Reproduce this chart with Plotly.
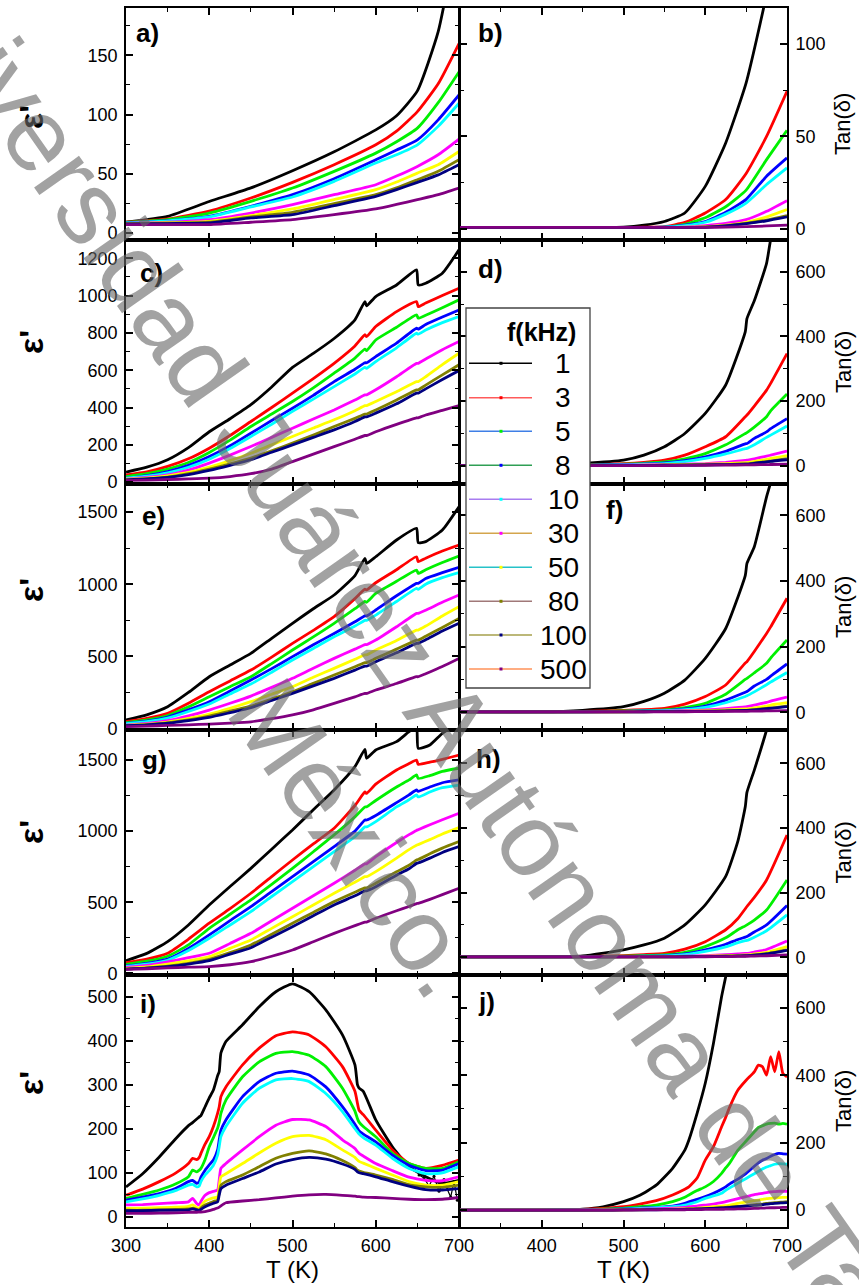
import plotly.graph_objects as go

# ---------------------------------------------------------------- series info
FREQS = ["1", "3", "5", "8", "10", "30", "50", "80", "100", "500"]   # kHz
COLORS = ["#000000", "#ff0000", "#00f000", "#0000ff", "#00ffff",
          "#ff00ff", "#ffff00", "#808000", "#000080", "#800080"]

# legend sample lines / dots (per entry)
LEG_LINE = ["#000000", "#ff5a5a", "#3f7fe6", "#2f9f55", "#a87cf0",
            "#d4a54c", "#26c2c8", "#a07878", "#a6a04c", "#ff9258"]
LEG_DOT = COLORS

# ---------------------------------------------------------------- a) eps'
T_a = [300, 350, 400, 450, 500, 550, 600, 625, 650, 675, 700]
eps_a = [
    [9, 14, 26.5, 38, 52.5, 68.5, 87, 99, 120, 170, 260],
    [9, 11.8, 18.5, 29.5, 42.7, 57.6, 74.4, 86, 102.5, 126, 160],
    [8.8, 11.2, 16.8, 26.7, 37.9, 52, 67.4, 77, 88.5, 110, 136],
    [8.5, 10.4, 14, 22.5, 32.3, 45.8, 61.8, 70, 78.6, 95.5, 116.5],
    [8.4, 10.2, 13.5, 21.9, 30.3, 43.5, 59, 66, 74.4, 90, 109.5],
    [8, 9, 11.2, 16.8, 23.9, 32.3, 40.7, 48, 56.2, 66, 79.2],
    [7.8, 8.6, 9.8, 14.6, 20.2, 28.1, 36.5, 43, 50.5, 57.6, 68.8],
    [7.6, 8.2, 9, 13.5, 17.4, 24.7, 32.3, 38, 44.9, 52, 61.8],
    [7.5, 7.9, 8.4, 12.6, 15.4, 23, 30.9, 36.5, 42.7, 49, 57.6],
    [7, 7, 7, 9, 11.2, 15.4, 20.2, 24, 28.1, 32.3, 37.9],
]

# ---------------------------------------------------------------- b) tan
T_b = [300, 400, 500, 525, 550, 575, 600, 625, 650, 675, 700]
tan_b = [
    [0.8, 0.8, 1, 2, 4, 8.6, 23, 46.5, 79, 127, 190],
    [0.8, 0.8, 0.8, 0.9, 1.2, 3.5, 8.6, 15.9, 30, 50, 74.4],
    [0.8, 0.8, 0.8, 0.8, 1, 2.5, 6, 12, 21, 37.5, 53.3],
    [0.8, 0.8, 0.8, 0.8, 0.9, 2, 4, 9, 16, 28.5, 38.4],
    [0.8, 0.8, 0.8, 0.8, 0.9, 1.8, 3.6, 8, 14, 24, 33],
    [0.8, 0.8, 0.8, 0.8, 0.8, 1, 1.8, 3, 5, 9.5, 15.3],
    [0.8, 0.8, 0.8, 0.8, 0.8, 0.9, 1.2, 2, 3.6, 6.5, 10.5],
    [0.8, 0.8, 0.8, 0.8, 0.8, 0.8, 1, 1.8, 3, 4.8, 7.2],
    [0.8, 0.8, 0.8, 0.8, 0.8, 0.8, 0.9, 1.6, 2.8, 4.4, 6.5],
    [0.8, 0.8, 0.8, 0.8, 0.8, 0.8, 0.8, 1, 1.2, 1.6, 2],
]

# ---------------------------------------------------------------- c) eps'
T_c = [300, 325, 350, 375, 400, 425, 450, 475, 500, 525, 550, 575, 587, 589,
       600, 625, 649, 651, 660, 680, 700]
eps_c = [
    [54, 80, 120, 185, 270, 340, 415, 510, 615, 690, 770, 870, 968, 945, 995, 1057, 1138, 1057, 1066, 1120, 1245],
    [39, 55, 84, 125, 182, 250, 325, 400, 477, 555, 637, 730, 790, 780, 834, 914, 968, 941, 960, 1000, 1039],
    [30, 45, 70, 105, 159, 225, 298, 365, 432, 505, 584, 665, 713, 705, 762, 830, 897, 879, 895, 935, 977],
    [21, 35, 57, 90, 137, 195, 262, 330, 396, 465, 539, 605, 640, 640, 673, 745, 825, 820, 845, 885, 923],
    [21, 32, 50, 80, 123, 180, 245, 310, 379, 445, 512, 580, 615, 610, 646, 720, 798, 793, 815, 855, 888],
    [16, 25, 39, 65, 102, 145, 191, 240, 289, 338, 387, 440, 468, 468, 495, 565, 637, 637, 660, 710, 754],
    [16, 22, 34, 52, 80, 115, 155, 200, 245, 290, 334, 383, 410, 410, 432, 485, 539, 539, 565, 630, 691],
    [12.5, 18, 27, 45, 70, 98, 129, 168, 209, 252, 298, 342, 365, 365, 387, 440, 495, 495, 520, 575, 629],
    [12.5, 17, 25, 40, 62.5, 90, 120, 160, 200, 240, 280, 325, 350, 350, 370, 420, 477, 477, 500, 550, 598],
    [9, 11, 14, 17, 21, 30, 45, 70, 110, 150, 190, 230, 250, 250, 270, 310, 345, 345, 360, 385, 410],
]

# ---------------------------------------------------------------- d) tan
T_d = [300, 400, 450, 500, 525, 550, 575, 600, 625, 649, 651, 660, 675, 680, 700]
tan_d = [
    [1, 1, 7, 17.5, 33, 59, 100, 162, 250, 415, 455, 510, 626, 700, 950],
    [1, 1, 3, 7, 11, 17.5, 33, 59, 90, 152, 157, 185, 234, 255, 347],
    [1, 1, 2, 5, 8, 12, 22, 38, 65, 100, 103, 120, 152, 170, 222],
    [1, 1, 1.5, 4, 6, 9, 16, 28, 45, 68, 69, 85, 105, 115, 146],
    [1, 1, 1.5, 3, 5, 7, 13, 23, 37, 53, 54, 65, 88, 95, 123],
    [1, 1, 1, 2, 3, 4, 5, 7, 11, 17, 17.5, 22, 30, 33, 46],
    [1, 1, 1, 1.5, 2, 3, 4, 5, 7, 10, 10, 14, 20, 23, 32],
    [1, 1, 1, 1, 1.5, 2, 3, 3.5, 4, 6, 6, 9, 13, 15, 22],
    [1, 1, 1, 1, 1.5, 2, 2.5, 3, 4, 5.5, 5.5, 8, 12, 14, 19],
    [1, 1, 1, 1, 1, 1, 1.5, 2, 2.5, 3, 3, 3.5, 4, 4.2, 5],
]

# ---------------------------------------------------------------- e) eps'
T_e = [300, 325, 350, 375, 400, 425, 450, 475, 500, 525, 550, 575, 587, 589,
       600, 625, 649, 651, 660, 680, 700]
eps_e = [
    [59, 95, 151, 250, 359, 440, 521, 625, 729, 830, 925, 1060, 1179, 1144, 1190, 1306, 1387, 1288, 1295, 1375, 1537],
    [47, 70, 105, 175, 255, 330, 405, 495, 590, 680, 775, 900, 965, 960, 1010, 1100, 1190, 1156, 1180, 1230, 1271],
    [40, 60, 90, 150, 220, 290, 359, 450, 544, 635, 729, 830, 880, 875, 936, 1020, 1098, 1075, 1100, 1150, 1195],
    [36, 52, 80, 130, 186, 260, 336, 415, 498, 580, 659, 740, 780, 780, 821, 920, 1006, 1006, 1040, 1080, 1117],
    [34, 48, 72, 118, 170, 240, 308, 390, 475, 555, 636, 710, 750, 750, 786, 880, 971, 965, 1000, 1045, 1080],
    [24, 35, 55, 88, 128, 175, 225, 285, 348, 418, 486, 550, 582, 582, 613, 705, 798, 798, 820, 875, 925],
    [22, 30, 45, 70, 100, 140, 186, 238, 290, 355, 417, 480, 510, 510, 544, 610, 682, 682, 710, 780, 844],
    [20, 27, 40, 60, 87, 120, 156, 205, 255, 313, 371, 428, 457, 457, 486, 550, 613, 613, 640, 700, 763],
    [20, 26, 37, 55, 77, 110, 144, 194, 244, 296, 348, 405, 432, 432, 463, 525, 590, 590, 615, 675, 729],
    [13, 17, 22, 26, 31, 38, 47, 68, 94, 130, 174, 220, 243, 243, 267, 312, 359, 359, 380, 430, 486],
]

# ---------------------------------------------------------------- f) tan
T_f = [300, 400, 450, 500, 525, 550, 575, 600, 625, 649, 651, 660, 675, 680, 700]
tan_f = [
    [1, 1, 6, 17, 33, 58, 98, 164, 255, 417, 453, 504, 656, 700, 950],
    [1, 1, 2.5, 6, 8, 12, 25, 48, 83, 150, 154, 185, 240, 260, 347],
    [1, 1, 2, 4, 5, 7, 14, 27, 55, 100, 103, 120, 149, 165, 220],
    [1, 1, 1.5, 3, 4, 5, 10, 19, 37, 61, 63, 80, 100, 110, 147],
    [1, 1, 1.5, 3, 3.5, 5, 8, 15, 29, 48, 50, 62, 84, 92, 121],
    [1, 1, 1, 2, 2.5, 3.5, 5, 7, 11, 16, 17, 22, 30, 34, 46],
    [1, 1, 1, 1.5, 2, 2.5, 3.5, 4.5, 7, 10, 10, 13, 19, 22, 29],
    [1, 1, 1, 1, 1.5, 2, 2.5, 3.5, 4, 6, 6, 8, 12, 13, 19],
    [1, 1, 1, 1, 1.5, 2, 2.5, 3, 4, 5.5, 5.5, 7, 11, 12, 17],
    [1, 1, 1, 1, 1, 1, 1.5, 2, 2.5, 3, 3, 3.5, 4, 4.2, 5],
]

# ---------------------------------------------------------------- g) eps'
T_g = [300, 325, 350, 375, 400, 425, 450, 475, 500, 525, 550, 575, 587, 589,
       600, 625, 640, 649, 651, 665, 680, 700]
eps_g = [
    [89, 140, 223, 340, 480, 610, 738, 873, 1008, 1150, 1289, 1453, 1575, 1512, 1570, 1629, 1699, 1730, 1582, 1606, 1688, 1760],
    [75, 100, 141, 240, 352, 455, 563, 680, 797, 910, 1020, 1180, 1275, 1265, 1330, 1430, 1475, 1500, 1470, 1485, 1505, 1535],
    [63, 85, 120, 200, 316, 415, 516, 625, 738, 855, 973, 1100, 1170, 1170, 1215, 1310, 1360, 1395, 1370, 1390, 1420, 1442],
    [52, 70, 100, 175, 270, 370, 469, 575, 680, 785, 891, 1000, 1078, 1078, 1110, 1200, 1255, 1289, 1280, 1310, 1340, 1360],
    [48, 64, 92, 160, 246, 340, 434, 540, 645, 750, 856, 960, 1030, 1030, 1067, 1170, 1220, 1254, 1240, 1275, 1305, 1324],
    [42, 55, 80, 110, 141, 210, 281, 370, 457, 545, 633, 725, 770, 770, 820, 920, 975, 1005, 1010, 1045, 1080, 1125],
    [35, 45, 65, 88, 117, 175, 234, 316, 398, 480, 563, 640, 680, 680, 715, 810, 870, 900, 905, 940, 980, 1025],
    [30, 38, 50, 70, 98, 145, 199, 275, 352, 428, 504, 570, 600, 600, 633, 715, 760, 797, 800, 840, 880, 926],
    [30, 36, 47, 65, 89, 135, 180, 254, 328, 405, 481, 545, 580, 580, 609, 690, 735, 773, 776, 810, 850, 891],
    [28, 32, 38, 43, 47, 60, 82, 120, 164, 222, 281, 335, 360, 360, 387, 440, 470, 490, 492, 520, 553, 598],
]

# ---------------------------------------------------------------- h) tan
T_h = [300, 400, 450, 500, 525, 550, 575, 600, 625, 640, 649, 651, 660, 675, 700]
tan_h = [
    [1, 1, 4, 23, 38, 59, 100, 162, 250, 360, 466, 510, 579, 703, 950],
    [1, 1, 2, 5, 8, 12, 25, 48, 85, 120, 150, 157, 185, 239, 378],
    [1, 1, 1.5, 3, 5, 7, 15, 33, 60, 85, 97, 100, 115, 146, 239],
    [1, 1, 1, 2, 3, 5, 10, 23, 40, 55, 62, 64, 78, 100, 160],
    [1, 1, 1, 2, 3, 4, 8, 18, 32, 45, 51, 52, 62, 82, 131],
    [1, 1, 1, 1, 1.5, 2, 3, 5, 8, 10, 12, 12, 16, 24, 50],
    [1, 1, 1, 1, 1, 1.5, 2, 3, 5, 6, 7, 7, 10, 15, 33],
    [1, 1, 1, 1, 1, 1, 1.5, 2, 3, 4, 4.5, 5, 7, 11, 23],
    [1, 1, 1, 1, 1, 1, 1.5, 2, 3, 4, 4.5, 5, 6.5, 10, 21],
    [1, 1, 1, 1, 1, 1, 1, 1.5, 2, 2.5, 3, 3, 3.5, 4.5, 7],
]

# ---------------------------------------------------------------- i) eps'
T_i = [300, 320, 340, 360, 375, 380, 385, 388, 390, 395, 400, 405, 410, 412,
       414, 420, 440, 460, 480, 500, 520, 540, 560, 575, 578, 580, 585, 600,
       620, 640, 660, 680, 700]
eps_i = [
    [68, 98, 136, 178, 207, 214, 222, 227, 230, 250, 270, 288, 320, 330, 372, 398, 436, 477, 511, 529, 511, 470, 413, 345, 300, 292, 285, 220, 159, 114, 91, 76, 83],
    [49, 63, 80, 100, 121, 133, 130, 135, 144, 165, 182, 205, 235, 250, 273, 295, 345, 383, 411, 420, 413, 386, 341, 285, 258, 242, 232, 197, 152, 121, 110, 117, 129],
    [42, 51, 61, 75, 91, 106, 102, 106, 110, 130, 159, 180, 201, 215, 235, 265, 318, 352, 371, 375, 367, 341, 292, 240, 223, 215, 205, 182, 144, 121, 110, 110, 125],
    [38, 45, 53, 65, 80, 83, 76, 80, 90, 106, 118, 129, 152, 175, 197, 220, 273, 307, 326, 331, 322, 295, 250, 210, 201, 195, 188, 170, 140, 117, 105, 106, 121],
    [34, 41, 49, 60, 72, 74, 68, 70, 80, 95, 105, 117, 140, 160, 182, 205, 258, 292, 311, 314, 307, 280, 239, 200, 193, 188, 180, 163, 133, 110, 98, 100, 114],
    [27, 28, 30, 32, 34, 42, 30, 27, 35, 49, 55, 58, 61, 85, 110, 121, 152, 182, 208, 221, 220, 205, 175, 155, 148, 144, 138, 121, 105, 90, 83, 82, 91],
    [19, 20, 21, 22, 24, 27, 21, 19, 25, 36, 40, 43, 45, 70, 91, 98, 121, 145, 167, 182, 185, 175, 152, 135, 129, 126, 122, 110, 95, 80, 72, 72, 80],
    [15, 15, 16, 17, 18, 20, 17, 15, 20, 27, 31, 35, 38, 55, 72, 80, 95, 114, 133, 144, 150, 143, 128, 112, 106, 104, 101, 95, 85, 73, 68, 67, 72],
    [14, 14, 15, 15, 16, 18, 16, 14, 17, 23, 27, 31, 34, 50, 64, 72, 87, 102, 120, 130, 135, 131, 120, 108, 102, 100, 98, 91, 80, 70, 62, 61, 64],
    [8, 8, 8.5, 9, 10, 10.5, 10.5, 11, 11, 12, 14, 17, 20, 22, 25, 32, 36, 39, 43, 47, 50, 51, 49, 47, 46, 46, 45, 44, 42, 40, 39, 40, 44],
]
# scattered 1 kHz readings at the high-temperature end of i)
T_i_1k_tail = [652, 658, 664, 670, 676, 682, 686, 690, 694, 698]
eps_i_1k_tail = [95, 88, 70, 92, 58, 85, 62, 45, 80, 38]

# ---------------------------------------------------------------- j) tan
T_j = [300, 400, 450, 475, 500, 520, 540, 560, 575, 580, 590, 600, 610, 620,
       625, 630, 640, 650, 660, 665, 670, 675, 680, 685, 690, 695, 700]
tan_j = [
    [0, 0, 3, 10, 25, 44, 74, 124, 178, 208, 287, 376, 494, 633, 692, 760] + [None] * 11,
    [0, 0, 2, 5, 10, 18, 28, 45, 62, 69, 95, 148, 188, 247, 275, 306, 356, 385, 410, 430, 425, 400, 455, 410, 470, 405, 395],
    [0, 0, 1, 3, 6, 10, 15, 25, 38, 45, 58, 69, 85, 109, 125, 140, 178, 205, 232, 245, 250, 255, 257, 258, 255, 257, 255],
    [0, 0, 1, 2, 4, 6, 8, 12, 20, 25, 32, 40, 50, 62, 69, 78, 92, 109, 130, 140, 148, 153, 160, 165, 168, 167, 166],
    [0, 0, 1, 2, 3, 5, 7, 10, 15, 18, 25, 35, 42, 50, 59, 66, 80, 94, 108, 115, 122, 128, 132, 136, 138, 137, 136],
    [0, 0, 0.5, 1, 2, 3, 4, 6, 8, 10, 12, 15, 18, 22, 25, 28, 34, 40, 46, 48, 50, 52, 54, 55, 56, 56, 56],
    [0, 0, 0, 0.5, 1, 1.5, 2, 3, 4, 5, 6, 8, 10, 12, 13, 15, 20, 24, 28, 30, 32, 34, 35, 36, 37, 38, 38],
    [0, 0, 0, 0, 0.5, 1, 1.5, 2, 3, 3.5, 4, 5, 6, 7, 8, 9, 11, 13, 16, 17, 18, 20, 21, 22, 23, 24, 25],
    [0, 0, 0, 0, 0.5, 1, 1.2, 1.8, 2.5, 3, 3.5, 4.5, 5.5, 6.5, 7, 8, 10, 12, 14, 15, 16, 18, 19, 20, 21, 21.5, 22],
    [0, 0, 0, 0, 0.3, 0.5, 0.7, 1, 1.2, 1.4, 1.6, 2, 2.3, 2.6, 2.8, 3, 3.5, 4, 5, 5.5, 6, 6.5, 7, 7, 7.5, 8, 8],
]

# ---------------------------------------------------------------- layout geometry (pixels)
W, H = 859, 1285
COLS = [(126, 459), (460, 787)]
ROWS = [(8, 240), (240, 484), (484, 730), (730, 975), (975, 1227)]
FONT = "Arial, Liberation Sans, sans-serif"


def fx(p):
    return p / W


def fy(p):
    return 1 - p / H


PANELS = [
    # label, T, values, y-range, major dtick, minor dtick, label pos (px)
    ("a)", T_a, eps_a, [-6, 190], 50, 25, (134, 33)),
    ("b)", T_b, tan_b, [-6, 119.5], 50, 25, (476, 33)),
    ("c)", T_c, eps_c, [-10, 1298], 200, 100, (138, 273)),
    ("d)", T_d, tan_d, [-56, 698], 200, 100, (476, 269)),
    ("e)", T_e, eps_e, [-10, 1694], 500, 250, (140, 516)),
    ("f)", T_f, tan_f, [-54, 695], 200, 100, (604, 510)),
    ("g)", T_g, eps_g, [-12, 1711], 500, 250, (140, 760)),
    ("h)", T_h, tan_h, [-55, 703], 200, 100, (474, 759)),
    ("i)", T_i, eps_i, [-23, 549], 100, 50, (138, 1004)),
    ("j)", T_j, tan_j, [-50, 697], 200, 100, (476, 1002)),
]
EPS_LABEL_Y = [117, 342, 590, 832, 1083]

fig = go.Figure()
annotations = []
shapes = []

for k, (lab, T, series, yr, dt, mdt, lpos) in enumerate(PANELS, start=1):
    row, col = (k - 1) // 2, (k - 1) % 2
    xs = "" if k == 1 else str(k)
    x0, x1 = COLS[col]
    y0, y1 = ROWS[row]
    bottom = row == 4

    for f, c, ys in zip(FREQS, COLORS, series):
        fig.add_trace(go.Scatter(
            x=T, y=ys, mode="lines", name=f + " kHz",
            line=dict(color=c, width=2.8, shape="spline", smoothing=0.5),
            xaxis="x" + xs, yaxis="y" + xs, showlegend=False,
            hoverinfo="skip"))
        if lab == "i)" and f == "1":
            fig.add_trace(go.Scatter(
                x=T_i_1k_tail, y=eps_i_1k_tail, mode="lines+markers",
                line=dict(color=c, width=1.2), marker=dict(size=3, color=c),
                xaxis="x" + xs, yaxis="y" + xs, showlegend=False,
                hoverinfo="skip"))

    if col == 0:
        xt = [300, 400, 500, 600, 700]
    else:
        xt = [400, 500, 600, 700]
    axis_common = dict(showline=True, linecolor="black", linewidth=1.6,
                       mirror="allticks", ticks="inside", ticklen=7,
                       tickwidth=1.5, tickcolor="black", showgrid=False,
                       zeroline=False,
                       tickfont=dict(family=FONT, size=18, color="black"))
    fig.layout["xaxis" + xs] = dict(
        domain=[fx(x0), fx(x1)], range=[300, 700], anchor="y" + xs,
        tickmode="array", tickvals=xt, showticklabels=bottom,
        ticklabelstandoff=2,
        minor=dict(ticks="inside", ticklen=4, tickwidth=1.3,
                   tickcolor="black", tickmode="linear", tick0=300, dtick=50),
        **axis_common)
    fig.layout["yaxis" + xs] = dict(
        domain=[fy(y1), fy(y0)], range=yr, anchor="x" + xs,
        side="left" if col == 0 else "right",
        tickmode="linear", tick0=0, dtick=dt, ticklabelstandoff=3,
        minor=dict(ticks="inside", ticklen=4, tickwidth=1.3,
                   tickcolor="black", tickmode="linear", tick0=0, dtick=mdt),
        **axis_common)

    annotations.append(dict(
        text="<b>" + lab + "</b>", x=fx(lpos[0]), y=fy(lpos[1]),
        xref="paper", yref="paper", xanchor="left", yanchor="middle",
        showarrow=False, font=dict(family=FONT, size=26, color="black")))

    yc = (y0 + y1) / 2
    if col == 0:
        annotations.append(dict(
            text="<b>ε'</b>", x=fx(31), y=fy(EPS_LABEL_Y[row]), xref="paper",
            yref="paper", xanchor="center", yanchor="middle",
            textangle=-90, showarrow=False,
            font=dict(family=FONT, size=34, color="black")))
    else:
        annotations.append(dict(
            text="Tan(δ)", x=fx(843), y=fy(yc), xref="paper",
            yref="paper", xanchor="center", yanchor="middle",
            textangle=-90, showarrow=False,
            font=dict(family=FONT, size=22, color="black")))

# x-axis titles
for xc in (292.5, 623.5):
    annotations.append(dict(
        text="T (K)", x=fx(xc), y=fy(1269), xref="paper", yref="paper",
        xanchor="center", yanchor="middle", showarrow=False,
        font=dict(family=FONT, size=24, color="black")))

# ---------------------------------------------------------------- legend box
LX0, LX1, LY0, LY1 = 466, 590, 308, 688
shapes.append(dict(type="rect", xref="paper", yref="paper",
                   x0=fx(LX0), x1=fx(LX1), y0=fy(LY1), y1=fy(LY0),
                   fillcolor="white", line=dict(color="#444444", width=1.3),
                   layer="above"))
annotations.append(dict(
    text="<b>f(kHz)</b>", x=fx(541), y=fy(332), xref="paper", yref="paper",
    xanchor="center", yanchor="middle", showarrow=False,
    font=dict(family=FONT, size=25, color="black")))
entry_y = [363.3, 397.7, 431.3, 465.3, 499.3, 533.3, 567.3, 601.3, 635, 669]
for f, lc, dc, ey in zip(FREQS, LEG_LINE, LEG_DOT, entry_y):
    shapes.append(dict(type="line", xref="paper", yref="paper",
                       x0=fx(469), x1=fx(532), y0=fy(ey), y1=fy(ey),
                       line=dict(color=lc, width=1.4), layer="above"))
    shapes.append(dict(type="rect", xref="paper", yref="paper",
                       x0=fx(499.5), x1=fx(502.5), y0=fy(ey + 1.5),
                       y1=fy(ey - 1.5), fillcolor=dc,
                       line=dict(width=0), layer="above"))
    annotations.append(dict(
        text=f, x=fx(563), y=fy(ey), xref="paper", yref="paper",
        xanchor="center", yanchor="middle", showarrow=False,
        font=dict(family=FONT, size=28, color="black")))

# ---------------------------------------------------------------- watermark
WM_FONT = dict(family=FONT, size=104, color="rgba(105,105,105,0.62)")
annotations.append(dict(
    text="Universidad Juárez Autónoma de Tabasco", x=fx(465), y=fy(740),
    xref="paper", yref="paper", xanchor="center", yanchor="middle",
    textangle=55, showarrow=False, font=WM_FONT))
annotations.append(dict(
    text="México.", x=fx(356), y=fy(838),
    xref="paper", yref="paper", xanchor="center", yanchor="middle",
    textangle=55, showarrow=False, font=WM_FONT))

fig.update_layout(
    width=W, height=H,
    # fixed page geometry: the oversized watermark must not push margins
    margin=dict(l=0, r=0, t=0, b=0, autoexpand=False),
    paper_bgcolor="white", plot_bgcolor="white",
    showlegend=False, annotations=annotations, shapes=shapes,
    font=dict(family=FONT, color="black"))

fig.write_html("out.html")
